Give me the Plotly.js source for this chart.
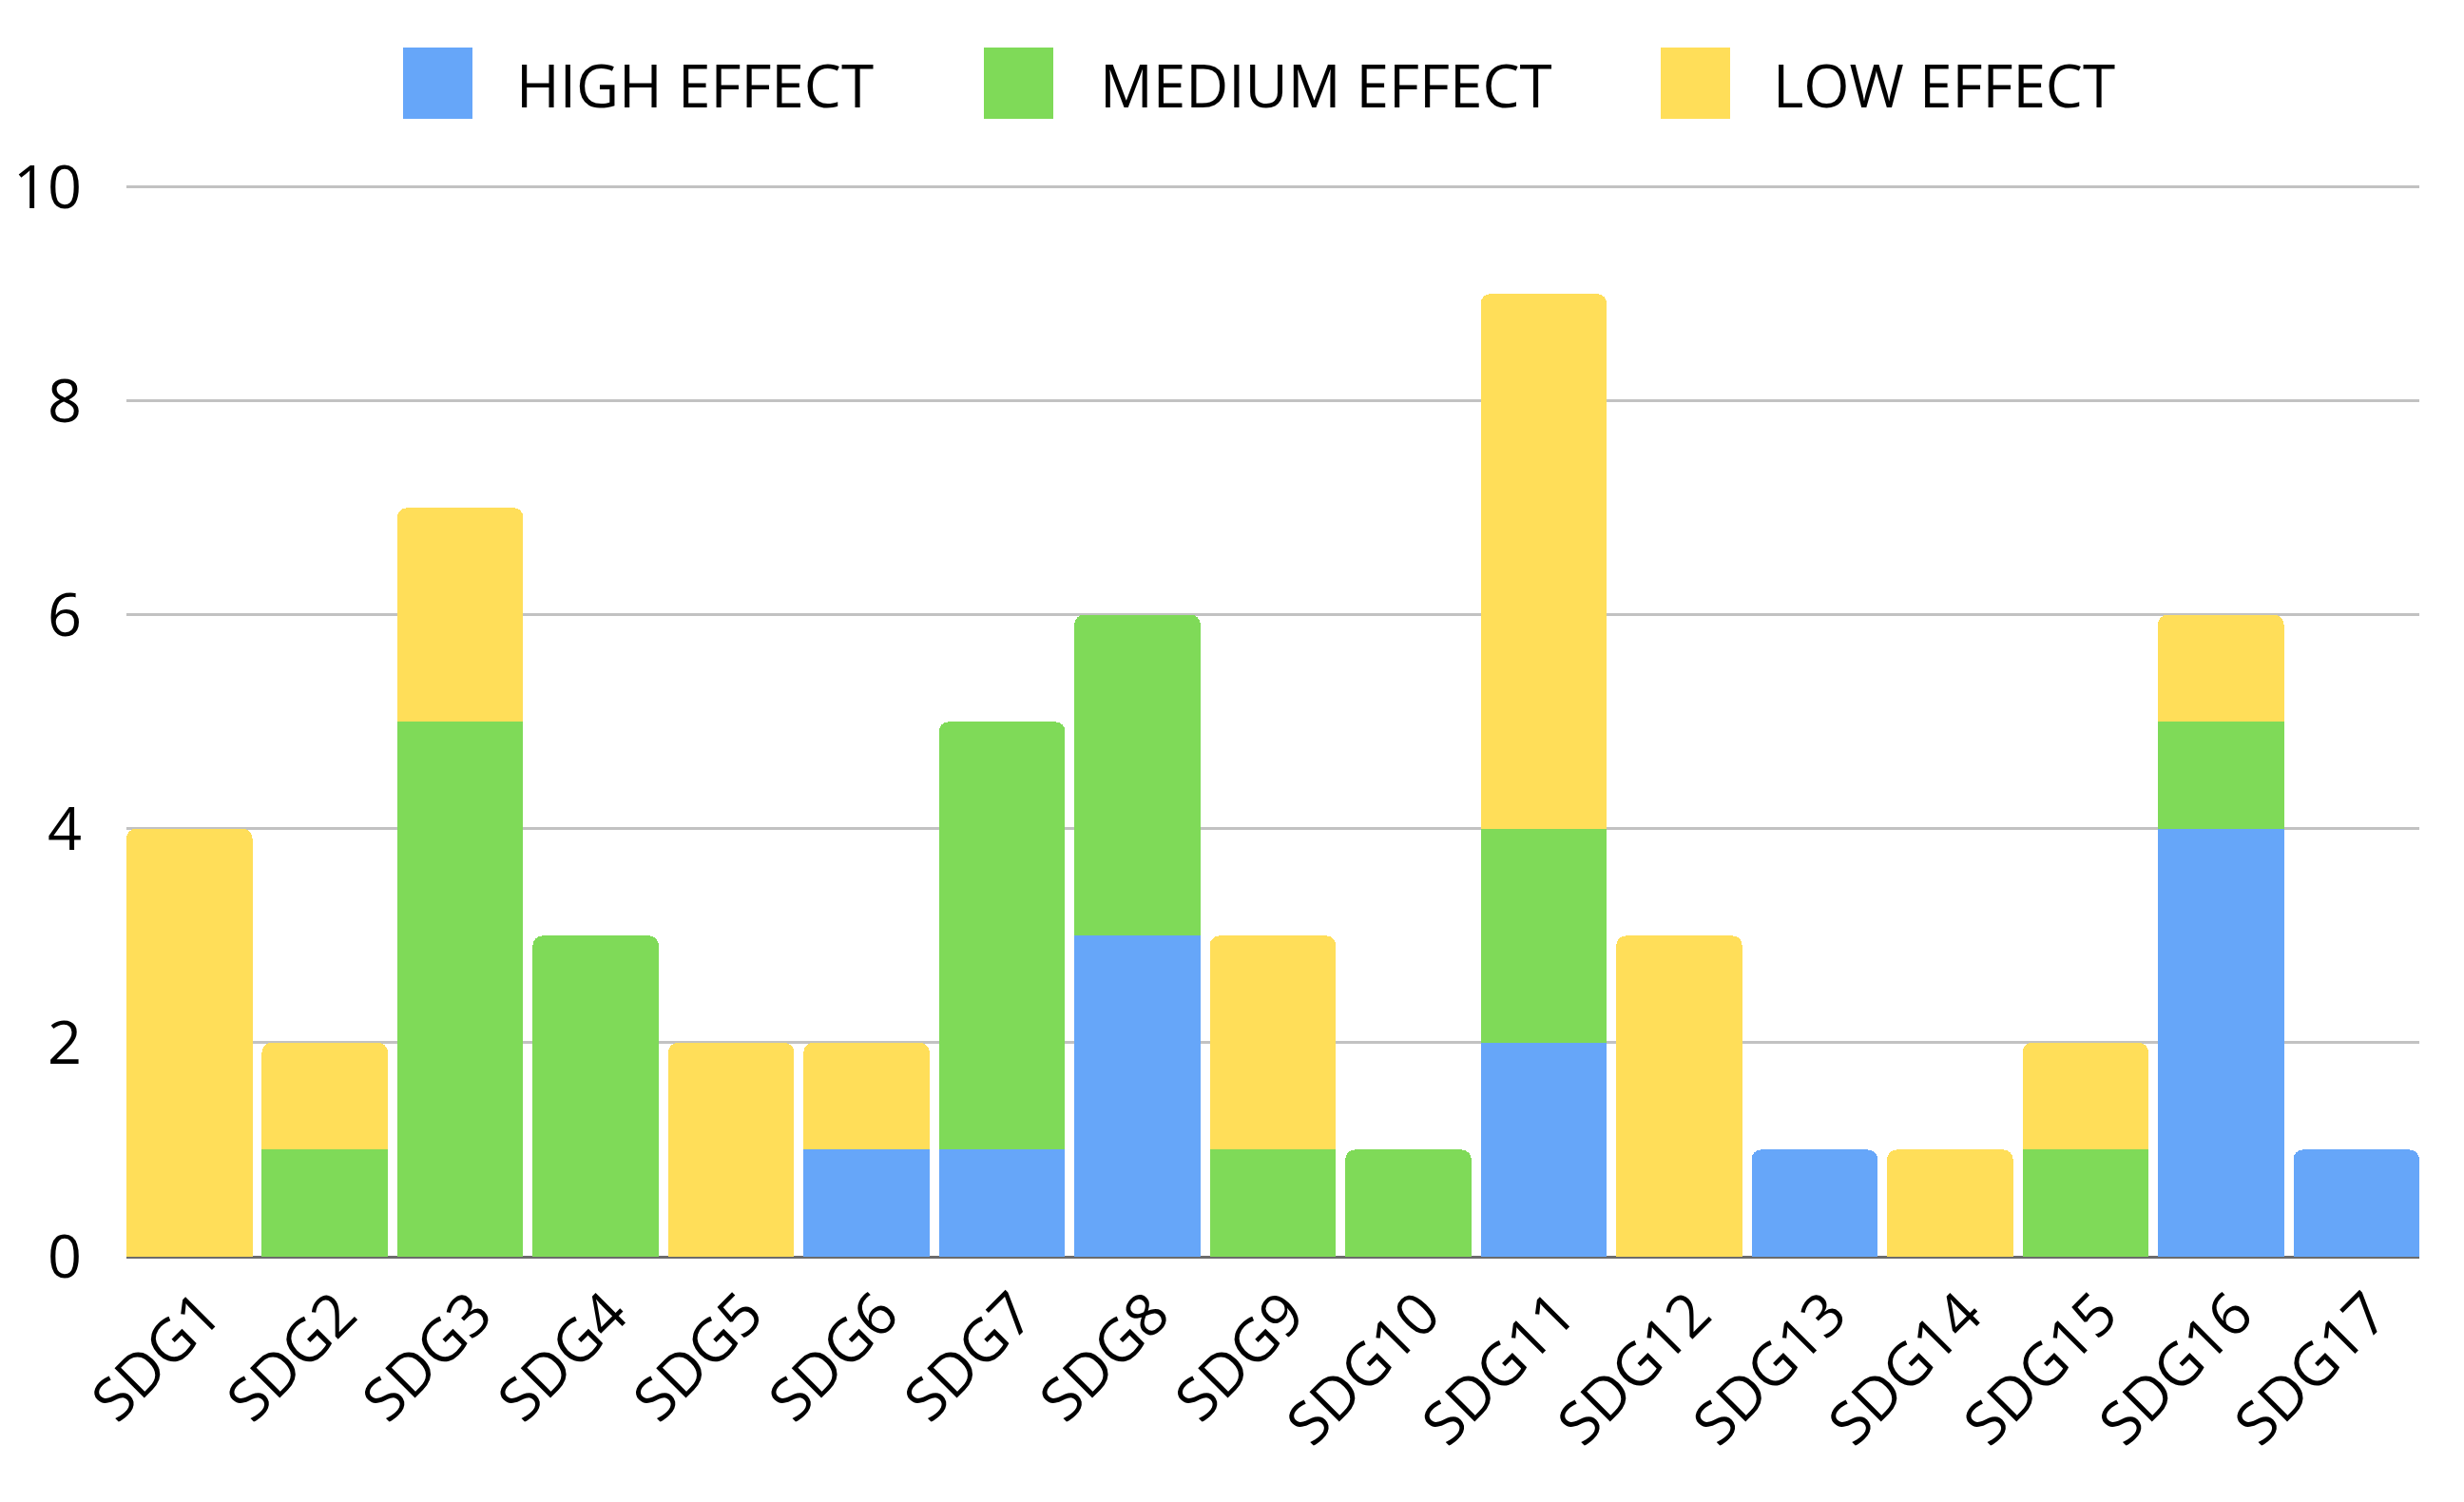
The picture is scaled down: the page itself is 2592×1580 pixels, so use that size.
<!DOCTYPE html>
<html>
<head>
<meta charset="utf-8">
<script src="https://cdn.plot.ly/plotly-3.0.1.min.js"></script>
<style>
html, body { margin: 0; padding: 0; background: #ffffff; }
#chart { width: 2592px; height: 1580px; }
</style>
</head>
<body>
<div id="chart"></div>
<script>
const categories = ['SDG1','SDG2','SDG3','SDG4','SDG5','SDG6','SDG7','SDG8','SDG9','SDG10','SDG11','SDG12','SDG13','SDG14','SDG15','SDG16','SDG17'];
const seriesNames = ['HIGH EFFECT', 'MEDIUM EFFECT', 'LOW EFFECT'];
const highEffect   = [0,0,0,0,0,1,1,3,0,0,2,0,1,0,0,4,1];
const mediumEffect = [0,1,5,3,0,0,4,3,1,1,2,0,0,0,1,1,0];
const lowEffect    = [4,1,2,0,2,1,0,0,2,0,5,3,0,1,1,1,0];
const yTicks = [0,2,4,6,8,10];

const colors = ['#66A6F9', '#7FDA58', '#FFDE59'];
const seriesValues = [highEffect, mediumEffect, lowEffect];

const W = 2592, H = 1580;
const M = {l: 133, r: 47, t: 191, b: 258};
const plotW = W - M.l - M.r, plotH = H - M.t - M.b;

const traces = seriesValues.map((vals, i) => ({
  type: 'bar',
  name: seriesNames[i],
  x: categories,
  y: vals,
  marker: {color: colors[i], line: {width: 0}},
  hoverinfo: 'x+y+name'
}));

// Custom legend (large swatches) in paper coordinates
const legendItems = [
  {box: [424, 497], textX: 541},
  {box: [1035, 1108], textX: 1155},
  {box: [1747, 1820], textX: 1863}
];
const px2x = p => (p - M.l) / plotW;
const py2y = p => (H - M.b - p) / plotH;
const shapes = [];
const annotations = [];
legendItems.forEach((it, i) => {
  shapes.push({
    type: 'rect', xref: 'paper', yref: 'paper',
    x0: px2x(it.box[0]), x1: px2x(it.box[1]),
    y0: py2y(125), y1: py2y(50),
    fillcolor: colors[i], line: {width: 0}, layer: 'above'
  });
  annotations.push({
    xref: 'paper', yref: 'paper',
    x: px2x(it.textX), y: py2y(89),
    xanchor: 'left', yanchor: 'middle',
    text: seriesNames[i], showarrow: false,
    font: {family: 'Open Sans', size: 62, color: '#000000'}
  });
});

const layout = {
  width: W, height: H,
  margin: M,
  paper_bgcolor: '#ffffff',
  plot_bgcolor: '#ffffff',
  barmode: 'stack',
  bargap: 0.07,
  barcornerradius: 10,
  showlegend: false,
  font: {family: 'Open Sans', size: 62, color: '#000000'},
  xaxis: {
    type: 'category',
    range: [-0.465, 16.465],
    tickangle: -45,
    showgrid: false,
    showline: false,
    zeroline: false,
    ticks: '',
    ticklabelshift: 15,
    ticklabelstandoff: 10,
    tickfont: {family: 'Open Sans', size: 62, color: '#000000'},
    fixedrange: true
  },
  yaxis: {
    range: [0, 10.05],
    tickvals: yTicks,
    ticktext: yTicks.map(String),
    showgrid: true,
    gridcolor: '#C2C2C2',
    gridwidth: 3,
    zeroline: true,
    zerolinecolor: '#6B6B6B',
    zerolinewidth: 3,
    showline: false,
    ticks: '',
    ticklabelstandoff: 46,
    tickfont: {family: 'Open Sans', size: 63, color: '#000000'},
    fixedrange: true
  },
  shapes: shapes,
  annotations: annotations
};

Plotly.newPlot('chart', traces, layout, {displayModeBar: false, staticPlot: true});
</script>
</body>
</html>
